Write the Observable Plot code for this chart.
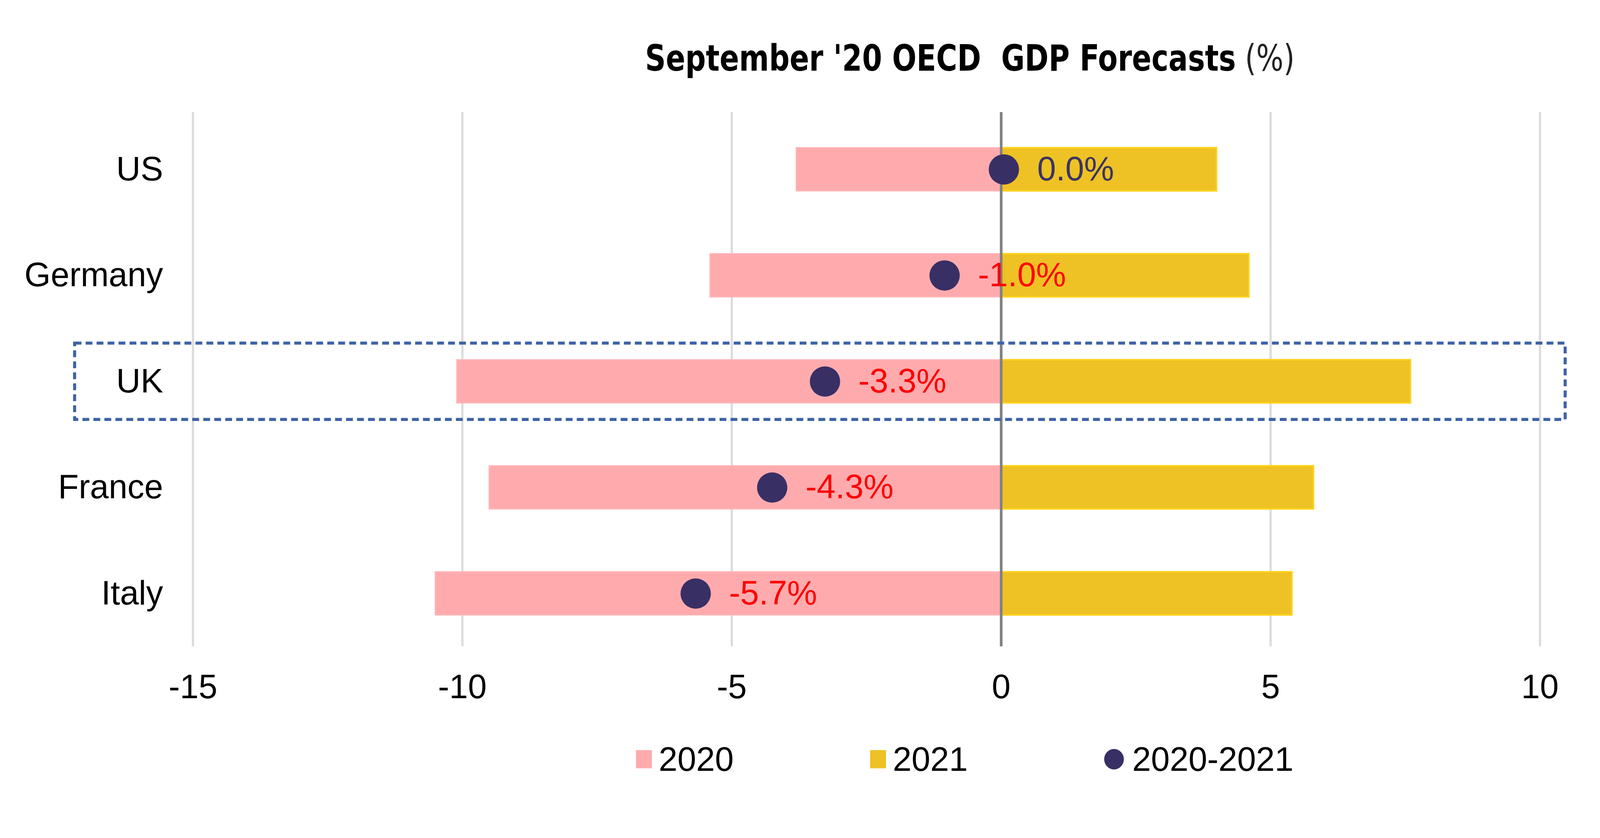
<!DOCTYPE html>
<html>
<head>
<meta charset="utf-8">
<script src="https://cdn.jsdelivr.net/npm/d3@7"></script>
<script src="https://cdn.jsdelivr.net/npm/@observablehq/plot@0.6"></script>
<style>
  html, body { margin: 0; padding: 0; background: #ffffff; overflow: hidden; }
  #wrap { width: 4224px; height: 2146px; position: relative; background: #ffffff; transform-origin: 0 0; }
  #title { height: 250px; position: relative; }
  #titleText {
    position: absolute; left: 1703px; top: 106px;
    font-family: "DejaVu Sans", sans-serif; font-stretch: condensed;
    font-size: 96px; line-height: 1; white-space: pre; color: #000;
    display: inline-block; transform-origin: 0 0;
  }
  #titleText .b { font-weight: bold; }
  #titleText .r { font-weight: normal; color: #222; }
  #chart svg { display: block; }
  #legend { position: relative; height: 196px; font-family: "Liberation Sans", Arial, sans-serif; font-size: 89px; color: #000; }
  .item { position: absolute; top: 0; height: 196px; display: flex; align-items: center; }
  .sw { width: 42px; height: 48px; margin-right: 18px; }
  .dotsw { width: 52px; height: 54px; border-radius: 50%; margin-right: 22px; }
</style>
</head>
<body>
<div id="wrap">
  <div id="title"><span id="titleText"></span></div>
  <div id="chart"></div>
  <div id="legend"></div>
</div>
<script>
// ---- data ----
const countries = ["US", "Germany", "UK", "France", "Italy"];
const gdp2020 = [-3.8, -5.4, -10.1, -9.5, -10.5];
const gdp2021 = [4.0, 4.6, 7.6, 5.8, 5.4];
const gdp2020to2021 = [0.05, -1.05, -3.27, -4.25, -5.67];
const changeLabels = ["0.0%", "-1.0%", "-3.3%", "-4.3%", "-5.7%"];
const xTicks = [-15, -10, -5, 0, 5, 10];
const highlighted = "UK";
const titleBold = "September '20 OECD  GDP Forecasts";
const titleUnit = "(%)";
const seriesNames = ["2020", "2021", "2020-2021"];

// ---- styles ----
const pink = "#FFABAE", pinkEdge = "#FFB5B8";
const gold = "#EEC224", goldEdge = "#FFD21C";
const navy = "#382F65";
const red = "#FF0000";
const fs = 89;

const rows = countries.map((c, i) => ({
  country: c, y2020: gdp2020[i], y2021: gdp2021[i], chg: gdp2020to2021[i], label: changeLabels[i],
  labelColor: changeLabels[i].startsWith("-") ? red : "#3B3463"
}));

const padInner = 0.594;

function highlightBox(index, scales, values, dimensions) {
  const y = scales.y;
  let bw = 0;
  if (typeof y.bandwidth === "function") bw = y.bandwidth();
  else if (typeof y.bandwidth === "number") bw = y.bandwidth;
  const step = y(countries[1]) - y(countries[0]);
  const cy = y(highlighted) + bw / 2;
  const half = 0.36 * step;
  const g = d3.create("svg:g");
  g.append("rect")
    .attr("x", 197).attr("y", cy - half)
    .attr("width", dimensions.width - 92 - 197).attr("height", 2 * half)
    .attr("fill", "none").attr("stroke", "#3D62A8").attr("stroke-width", 8)
    .attr("stroke-dasharray", "18,11");
  return g.node();
}

const chart = Plot.plot({
  width: 4224,
  height: 1657,
  marginTop: 46,
  marginBottom: 200,
  marginLeft: 509,
  marginRight: 159,
  style: { fontFamily: "'Liberation Sans', Arial, sans-serif", fontSize: fs + "px", color: "#000", background: "#ffffff" },
  x: { domain: [xTicks[0], xTicks[xTicks.length - 1]], label: null },
  y: { domain: countries, paddingInner: padInner, paddingOuter: padInner / 2, insetTop: 10, label: null },
  marks: [
    Plot.gridX(xTicks.filter(t => t !== 0), { stroke: "#DCDCDC", strokeWidth: 6, strokeOpacity: 1 }),
    Plot.barX(rows, { y: "country", x1: 0, x2: "y2020", fill: pink, stroke: pinkEdge, strokeWidth: 3 }),
    Plot.barX(rows, { y: "country", x1: 0, x2: "y2021", fill: gold, stroke: goldEdge, strokeWidth: 4 }),
    Plot.ruleX([0], { stroke: "#808080", strokeWidth: 7 }),
    Plot.dot(rows, { x: "chg", y: "country", r: 40, fill: navy, stroke: null }),
    Plot.text(rows, { x: "chg", y: "country", text: "label", dx: 88, textAnchor: "start", fill: "labelColor", fontSize: fs }),
    Plot.axisX({ ticks: xTicks, tickSize: 0, tickPadding: 73, tickFormat: d => String(d), fontSize: fs, label: null }),
    Plot.axisY({ tickSize: 0, tickPadding: 79, fontSize: fs, label: null }),
    highlightBox
  ]
});
document.getElementById("chart").appendChild(chart);

// title
const tt = document.getElementById("titleText");
const sb = document.createElement("span"); sb.className = "b"; sb.textContent = titleBold;
const sr = document.createElement("span"); sr.className = "r"; sr.textContent = " " + titleUnit;
tt.appendChild(sb); tt.appendChild(sr);
const w = tt.getBoundingClientRect().width;
if (w > 0) tt.style.transform = `scaleX(${1715 / w})`;

// legend
const legend = document.getElementById("legend");
const legendLeft = [1679, 2297, 2915];
const legendKinds = [pink, gold, navy];
seriesNames.forEach((name, i) => {
  const item = document.createElement("div");
  item.className = "item";
  item.style.left = legendLeft[i] + "px";
  const m = document.createElement("div");
  m.className = i === 2 ? "dotsw" : "sw";
  m.style.background = legendKinds[i];
  const t = document.createElement("span");
  t.textContent = name;
  item.appendChild(m); item.appendChild(t);
  legend.appendChild(item);
});

// fit the 4224-wide layout into the actual viewport
function fit() {
  const vw = window.innerWidth || document.documentElement.clientWidth || 4224;
  const s = vw / 4224;
  document.getElementById("wrap").style.transform = s < 0.999 || s > 1.001 ? `scale(${s})` : "";
}
fit();
window.addEventListener("resize", fit);
</script>
</body>
</html>
